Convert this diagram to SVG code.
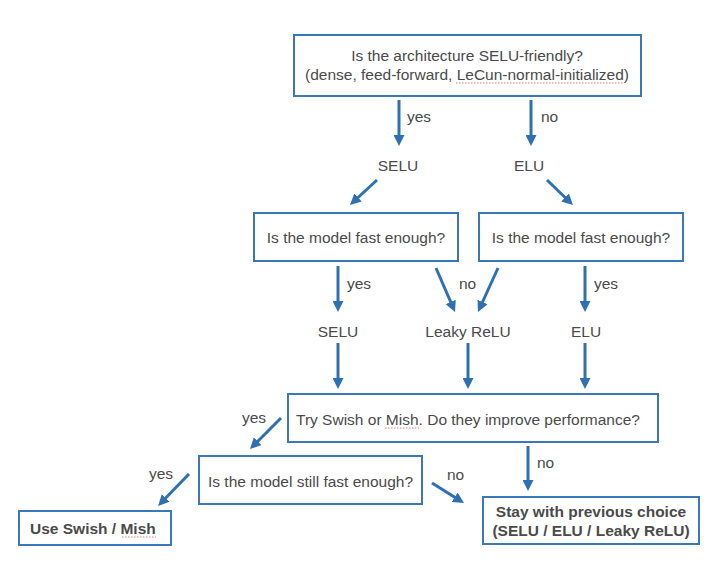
<svg xmlns="http://www.w3.org/2000/svg" width="717" height="562" viewBox="0 0 717 562">
<defs>
<style>
.box{fill:#fff;stroke:#3b78b6;stroke-width:2}
.t{font-family:"Liberation Sans",Arial,sans-serif;font-size:15.5px;fill:#4a4a4a}
.b{font-weight:bold}
.m{text-anchor:middle}
.c{stroke:#2e70b2;stroke-width:3;fill:none;marker-end:url(#ah)}
.sq{stroke:#e07a7a;stroke-width:1;stroke-dasharray:1.5 1.5;fill:none}
</style>
<marker id="ah" viewBox="0 0 10 10" refX="6" refY="5" markerWidth="11" markerHeight="11" markerUnits="userSpaceOnUse" orient="auto">
<path d="M0,0 L10,5 L0,10 z" fill="#2e70b2"/>
</marker>
</defs>
<rect width="717" height="562" fill="#fff"/>

<g id="q1">
<rect class="box" x="294" y="35" width="347" height="61"/>
<text class="t m" x="467" y="61">Is the architecture SELU-friendly?</text>
<text class="t m" x="467" y="80">(dense, feed-forward, LeCun-normal-initialized)</text>
<path class="sq" d="M456,83 H623"/>
</g>
<g id="selu1"><text class="t m" x="398" y="171">SELU</text></g>
<g id="elu1"><text class="t m" x="529" y="171">ELU</text></g>
<g id="q2a">
<rect class="box" x="254" y="213" width="204" height="48"/>
<text class="t m" x="356" y="243">Is the model fast enough?</text>
</g>
<g id="q2b">
<rect class="box" x="479" y="213" width="204" height="48"/>
<text class="t m" x="581" y="243">Is the model fast enough?</text>
</g>
<g id="selu2"><text class="t m" x="338" y="337">SELU</text></g>
<g id="leaky"><text class="t m" x="468" y="337">Leaky ReLU</text></g>
<g id="elu2"><text class="t m" x="586" y="337">ELU</text></g>
<g id="q3">
<rect class="box" x="288" y="394" width="370" height="48"/>
<text class="t" x="296" y="425">Try Swish or Mish. Do they improve performance?</text>
<path class="sq" d="M385,428 H419"/>
</g>
<g id="q4">
<rect class="box" x="199" y="456" width="223" height="48"/>
<text class="t" x="208" y="487">Is the model still fast enough?</text>
</g>
<g id="useswish">
<rect class="box" x="19" y="511" width="152" height="34"/>
<text class="t b" x="30" y="534">Use Swish / Mish</text>
<path class="sq" d="M122,537 H156"/>
</g>
<g id="stay">
<rect class="box" x="483" y="497" width="216" height="47"/>
<text class="t b m" x="591" y="517">Stay with previous choice</text>
<text class="t b m" x="591" y="536">(SELU / ELU / Leaky ReLU)</text>
</g>

<g id="connectors">
<line class="c" x1="399" y1="100" x2="399" y2="141.6"/>
<line class="c" x1="531" y1="100" x2="531" y2="141.6"/>
<line class="c" x1="377" y1="180" x2="353.2" y2="202"/>
<line class="c" x1="547" y1="180" x2="569.8" y2="202"/>
<line class="c" x1="338" y1="266" x2="338" y2="307.6"/>
<line class="c" x1="436" y1="268" x2="453.3" y2="308"/>
<line class="c" x1="498" y1="268" x2="479.8" y2="308"/>
<line class="c" x1="585" y1="266" x2="585" y2="307.6"/>
<line class="c" x1="338" y1="343" x2="338" y2="384.6"/>
<line class="c" x1="468" y1="343" x2="468" y2="384.6"/>
<line class="c" x1="585" y1="343" x2="585" y2="384.6"/>
<line class="c" x1="281" y1="418" x2="253.1" y2="445.9"/>
<line class="c" x1="189" y1="474" x2="161.1" y2="502.8"/>
<line class="c" x1="432" y1="483" x2="460.3" y2="500.7"/>
<line class="c" x1="528" y1="446" x2="528" y2="486.6"/>
<text class="t" x="407" y="122">yes</text>
<text class="t" x="541" y="122">no</text>
<text class="t" x="347" y="289">yes</text>
<text class="t" x="459" y="289">no</text>
<text class="t" x="594" y="289">yes</text>
<text class="t" x="242" y="423">yes</text>
<text class="t" x="149" y="479">yes</text>
<text class="t" x="447" y="480">no</text>
<text class="t" x="537" y="468">no</text>
</g>
</svg>
